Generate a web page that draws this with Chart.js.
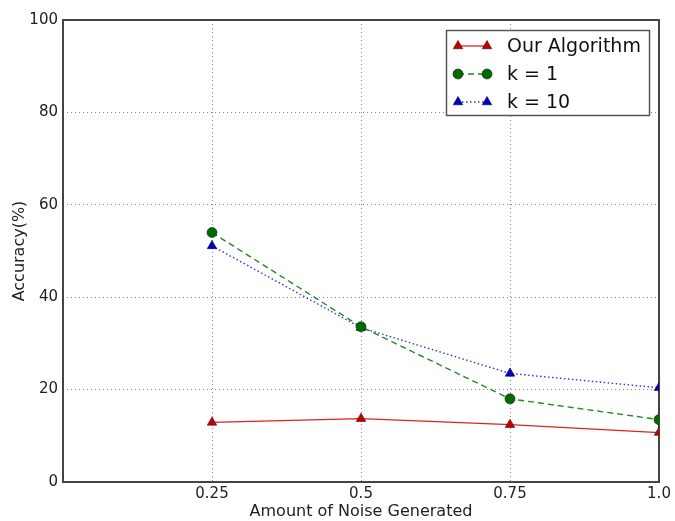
<!DOCTYPE html>
<html><head><meta charset="utf-8">
<script src="https://cdn.jsdelivr.net/npm/chart.js@4/dist/chart.umd.min.js"></script>
<style>html,body{margin:0;padding:0;background:#fff}#wrap{width:675px;height:521px}</style>
</head><body><div id="wrap"><canvas id="c"></canvas></div>
<script>
const noiseLevels = [0.25, 0.5, 0.75, 1.0];
const xTickLabels = ['0.25', '0.5', '0.75', '1.0'];
const ourAlgorithm = [12.9, 13.7, 12.4, 10.7];
const kOne = [54.0, 33.6, 18.0, 13.5];
const kTen = [51.1, 33.4, 23.5, 20.4];
const seriesNames = ['Our Algorithm', 'k = 1', 'k = 10'];

const FONT = 'DejaVu Sans';
const toPts = arr => arr.map((v, i) => ({x: noiseLevels[i], y: v}));

const frame = {
  id: 'frame',
  beforeDatasetsDraw(chart) {
    const {ctx, chartArea: a} = chart;
    ctx.save();
    ctx.strokeStyle = '#444';
    ctx.lineWidth = 2;
    ctx.setLineDash([]);
    ctx.strokeRect(a.left, a.top, a.right - a.left, a.bottom - a.top);
    ctx.restore();
  }
};

const legendBox = {
  id: 'legendBox',
  afterDatasetsDraw(chart) {
    const {ctx} = chart;
    ctx.save();
    const bx = 446.5, by = 30.5, bw = 203, bh = 85;
    ctx.fillStyle = '#fff';
    ctx.fillRect(bx, by, bw, bh);
    ctx.strokeStyle = '#555';
    ctx.lineWidth = 1.5;
    ctx.strokeRect(bx, by, bw, bh);
    chart.data.datasets.forEach((ds, i) => {
      const y = 46 + i * 28;
      const x0 = 458, x1 = 487;
      ctx.strokeStyle = ds.borderColor;
      ctx.lineWidth = ds.borderWidth;
      ctx.setLineDash(ds.borderDash || []);
      ctx.beginPath(); ctx.moveTo(x0, y); ctx.lineTo(x1, y); ctx.stroke();
      ctx.setLineDash([]);
      [x0, x1].forEach(px => {
        ctx.fillStyle = ds.pointBackgroundColor;
        ctx.strokeStyle = ds.pointBorderColor;
        ctx.lineWidth = ds.pointBorderWidth;
        ctx.beginPath();
        const r = ds.pointRadius;
        if (ds.pointStyle === 'circle') {
          ctx.arc(px, y, r, 0, Math.PI * 2);
        } else {
          const s = r * 3 / Math.sqrt(3);
          const h = s * Math.sqrt(3) / 2;
          ctx.moveTo(px, y - 2 * h / 3); ctx.lineTo(px + s / 2, y + h / 3); ctx.lineTo(px - s / 2, y + h / 3); ctx.closePath();
        }
        ctx.fill(); ctx.stroke();
      });
      ctx.fillStyle = '#111';
      ctx.font = '19px "' + FONT + '"';
      ctx.textBaseline = 'middle';
      ctx.textAlign = 'left';
      ctx.fillText(ds.label, 507, y + 1);
    });
    ctx.restore();
  }
};

new Chart(document.getElementById('c'), {
  type: 'line',
  data: {
    datasets: [
      {label: seriesNames[0], data: toPts(ourAlgorithm), borderColor: '#dd2222', borderWidth: 1.3,
       pointStyle: 'triangle', pointRadius: 5.5, pointBackgroundColor: '#c00000', pointBorderColor: '#550000', pointBorderWidth: 0.6},
      {label: seriesNames[1], data: toPts(kOne), borderColor: '#228b22', borderWidth: 1.4, borderDash: [6, 4],
       pointStyle: 'circle', pointRadius: 5, pointBackgroundColor: '#006a00', pointBorderColor: '#002200', pointBorderWidth: 0.6},
      {label: seriesNames[2], data: toPts(kTen), borderColor: '#3333dd', borderWidth: 1.4, borderDash: [1.5, 2.5],
       pointStyle: 'triangle', pointRadius: 5.5, pointBackgroundColor: '#0000c0', pointBorderColor: '#000044', pointBorderWidth: 0.6}
    ]
  },
  options: {
    responsive: true, maintainAspectRatio: false, animation: false,
    layout: {padding: {top: 20, right: 16, left: 0, bottom: 0}},
    plugins: {legend: {display: false}, tooltip: {enabled: false}},
    elements: {line: {tension: 0}},
    scales: {
      x: {
        type: 'linear', min: 0, max: 1,
        afterBuildTicks: s => { s.ticks = noiseLevels.map(v => ({value: v})); },
        afterFit: s => { s.height = 39; },
        ticks: {
          callback: (v) => { const i = noiseLevels.indexOf(v); return i >= 0 ? xTickLabels[i] : ''; },
          font: {family: FONT, size: 15}, color: '#222', padding: 3, maxRotation: 0
        },
        grid: {color: '#888', lineWidth: 1, tickLength: 0, drawTicks: false},
        border: {display: false, dash: [1, 3]},
        title: {display: true, text: 'Amount of Noise Generated', font: {family: FONT, size: 16}, color: '#222', padding: {top: 0, bottom: 0}}
      },
      y: {
        min: 0, max: 100,
        afterFit: s => { s.width = 63; },
        ticks: {stepSize: 20, font: {family: FONT, size: 15}, color: '#222', padding: 5},
        grid: {color: '#888', lineWidth: 1, tickLength: 0, drawTicks: false},
        border: {display: false, dash: [1, 3]},
        title: {display: true, text: 'Accuracy(%)', font: {family: FONT, size: 16}, color: '#222', padding: {top: 10, bottom: 0}}
      }
    }
  },
  plugins: [frame, legendBox]
});
</script>
</body></html>
